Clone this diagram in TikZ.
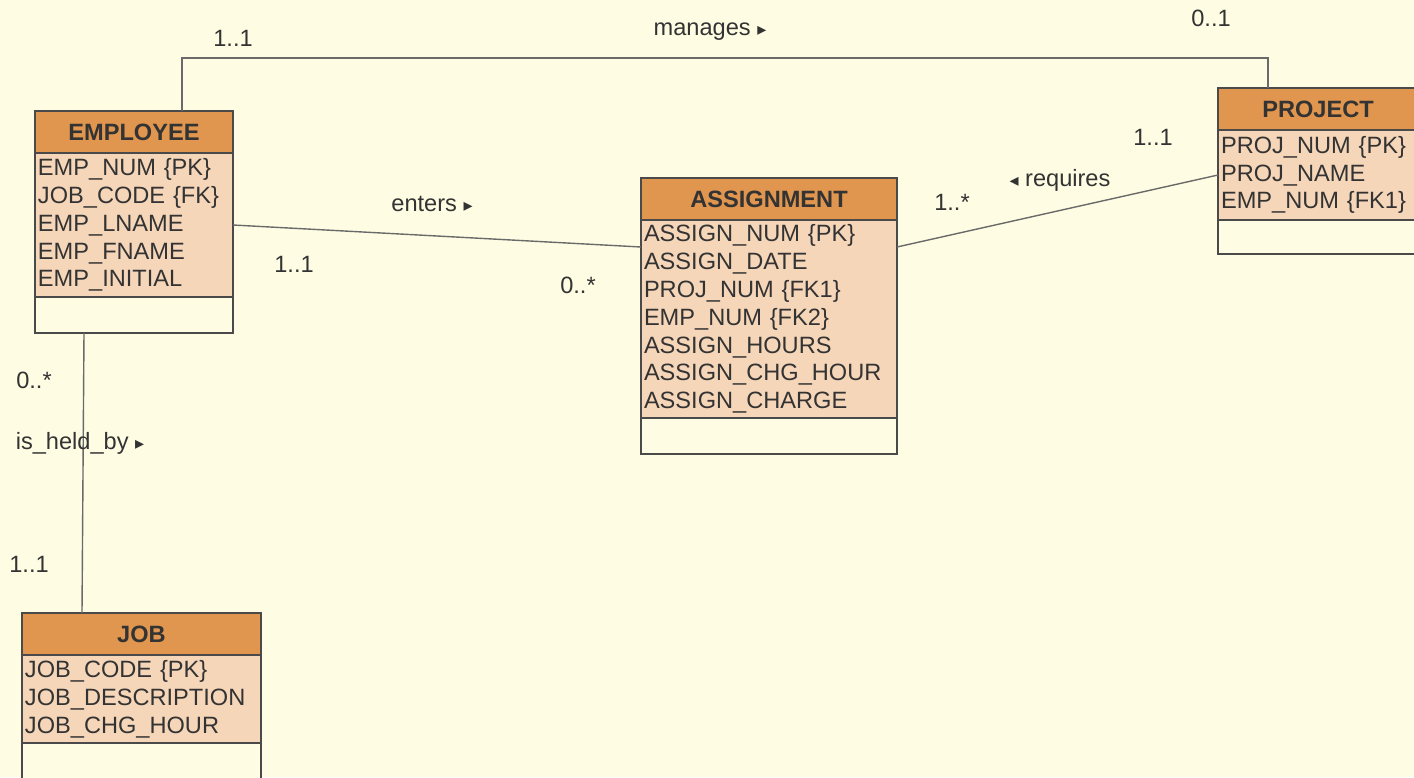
\documentclass[tikz,border=0pt]{standalone}
\usepackage{fontspec}
\setmainfont{Liberation Sans}
\newfontfamily\glyphfont{DejaVu Sans}
\usetikzlibrary{positioning}
\definecolor{paper}{HTML}{FEFDE3}
\definecolor{headorange}{HTML}{E0964F}
\definecolor{attrpeach}{HTML}{F6D6B9}
\definecolor{boxline}{HTML}{4A4A4A}
\definecolor{linkline}{HTML}{6A6A6A}
\definecolor{inktext}{HTML}{333333}
\newcommand{\fwdmark}{{\glyphfont\fontsize{9}{9}\selectfont ▸}}
\newcommand{\backmark}{{\glyphfont\fontsize{9}{9}\selectfont ◂}}
\tikzset{
  entityhead/.style={draw=boxline, line width=0.9pt, fill=headorange, text=inktext,
    font=\fontsize{11.8}{13.9}\selectfont\bfseries, inner sep=0pt, outer sep=0pt,
    minimum height=21pt, anchor=north west},
  entityattrs/.style={draw=boxline, line width=0.9pt, fill=attrpeach, text=inktext,
    font=\fontsize{11.8}{13.9}\selectfont, align=left, inner xsep=1.5pt, inner ysep=0pt,
    outer sep=0pt},
  entityfoot/.style={draw=boxline, line width=0.9pt, fill=paper, inner sep=0pt, outer sep=0pt},
  link/.style={draw=linkline, line width=0.7pt},
  tag/.style={text=inktext, font=\fontsize{11.8}{13.9}\selectfont, inner sep=0pt,
    text height=8.5pt, text depth=0pt}
}
\begin{document}
\begin{tikzpicture}[x=0.5pt, y=-0.5pt]
  \fill [paper] (0,0) rectangle (1414,777);
  \clip (0,0) rectangle (1414,777);
  \node [entityhead, minimum width=99pt] (emphead) at (35,111) {EMPLOYEE};
  \node [entityattrs, below=0pt of emphead, text width=96pt, minimum height=72pt] (empattr)
    {EMP\_NUM \{PK\}\\JOB\_CODE \{FK\}\\EMP\_LNAME\\EMP\_FNAME\\EMP\_INITIAL};
  \node [entityfoot, below=0pt of empattr, minimum width=99pt, minimum height=18pt] (empfoot) {};
  \node [entityhead, minimum width=128pt] (asghead) at (641,178) {ASSIGNMENT};
  \node [entityattrs, below=0pt of asghead, text width=125pt, minimum height=99pt] (asgattr)
    {ASSIGN\_NUM \{PK\}\\ASSIGN\_DATE\\PROJ\_NUM \{FK1\}\\EMP\_NUM \{FK2\}\\ASSIGN\_HOURS\\ASSIGN\_CHG\_HOUR\\ASSIGN\_CHARGE};
  \node [entityfoot, below=0pt of asgattr, minimum width=128pt, minimum height=18pt] (asgfoot) {};
  \node [entityhead, minimum width=100pt] (projhead) at (1218,88) {PROJECT};
  \node [entityattrs, below=0pt of projhead, text width=97pt, minimum height=45pt] (projattr)
    {PROJ\_NUM \{PK\}\\PROJ\_NAME\\EMP\_NUM \{FK1\}};
  \node [entityfoot, below=0pt of projattr, minimum width=100pt, minimum height=17pt] (projfoot) {};
  \node [entityhead, minimum width=119.5pt] (jobhead) at (22,613) {JOB};
  \node [entityattrs, below=0pt of jobhead, text width=116.5pt, minimum height=44pt] (jobattr)
    {JOB\_CODE \{PK\}\\JOB\_DESCRIPTION\\JOB\_CHG\_HOUR};
  \node [entityfoot, below=0pt of jobattr, minimum width=119.5pt, minimum height=22pt] (jobfoot) {};
  \draw [link] ([xshift=24pt]emphead.north) -- ++(0,-53) -| ([xshift=25pt]projhead.north west);
  \draw [link] (empattr.east) -- ([yshift=-13.5pt]asgattr.north west);
  \draw [link] ([yshift=-13.5pt]asgattr.north east) -- (projattr.west);
  \draw [link] ([xshift=24.5pt]empfoot.south west) -- ([xshift=30pt]jobhead.north west);
  \node [tag] (manages) at (710,27) {manages \fwdmark};
  \node [tag] (mgemp) at (233,38) {1..1};
  \node [tag] (mgproj) at (1211,18) {0..1};
  \node [tag] (enters) at (432,203) {enters \fwdmark};
  \node [tag] (enemp) at (294,264) {1..1};
  \node [tag] (enasg) at (578,285) {0..*};
  \node [tag] (requires) at (1060,178) {\backmark\ requires};
  \node [tag] (rqasg) at (952,202) {1..*};
  \node [tag] (rqproj) at (1153,137) {1..1};
  \node [tag] (heldemp) at (34,380) {0..*};
  \node [tag] (heldby) at (80,441) {is\_held\_by \fwdmark};
  \node [tag] (heldjob) at (29,564) {1..1};
\end{tikzpicture}
\end{document}
